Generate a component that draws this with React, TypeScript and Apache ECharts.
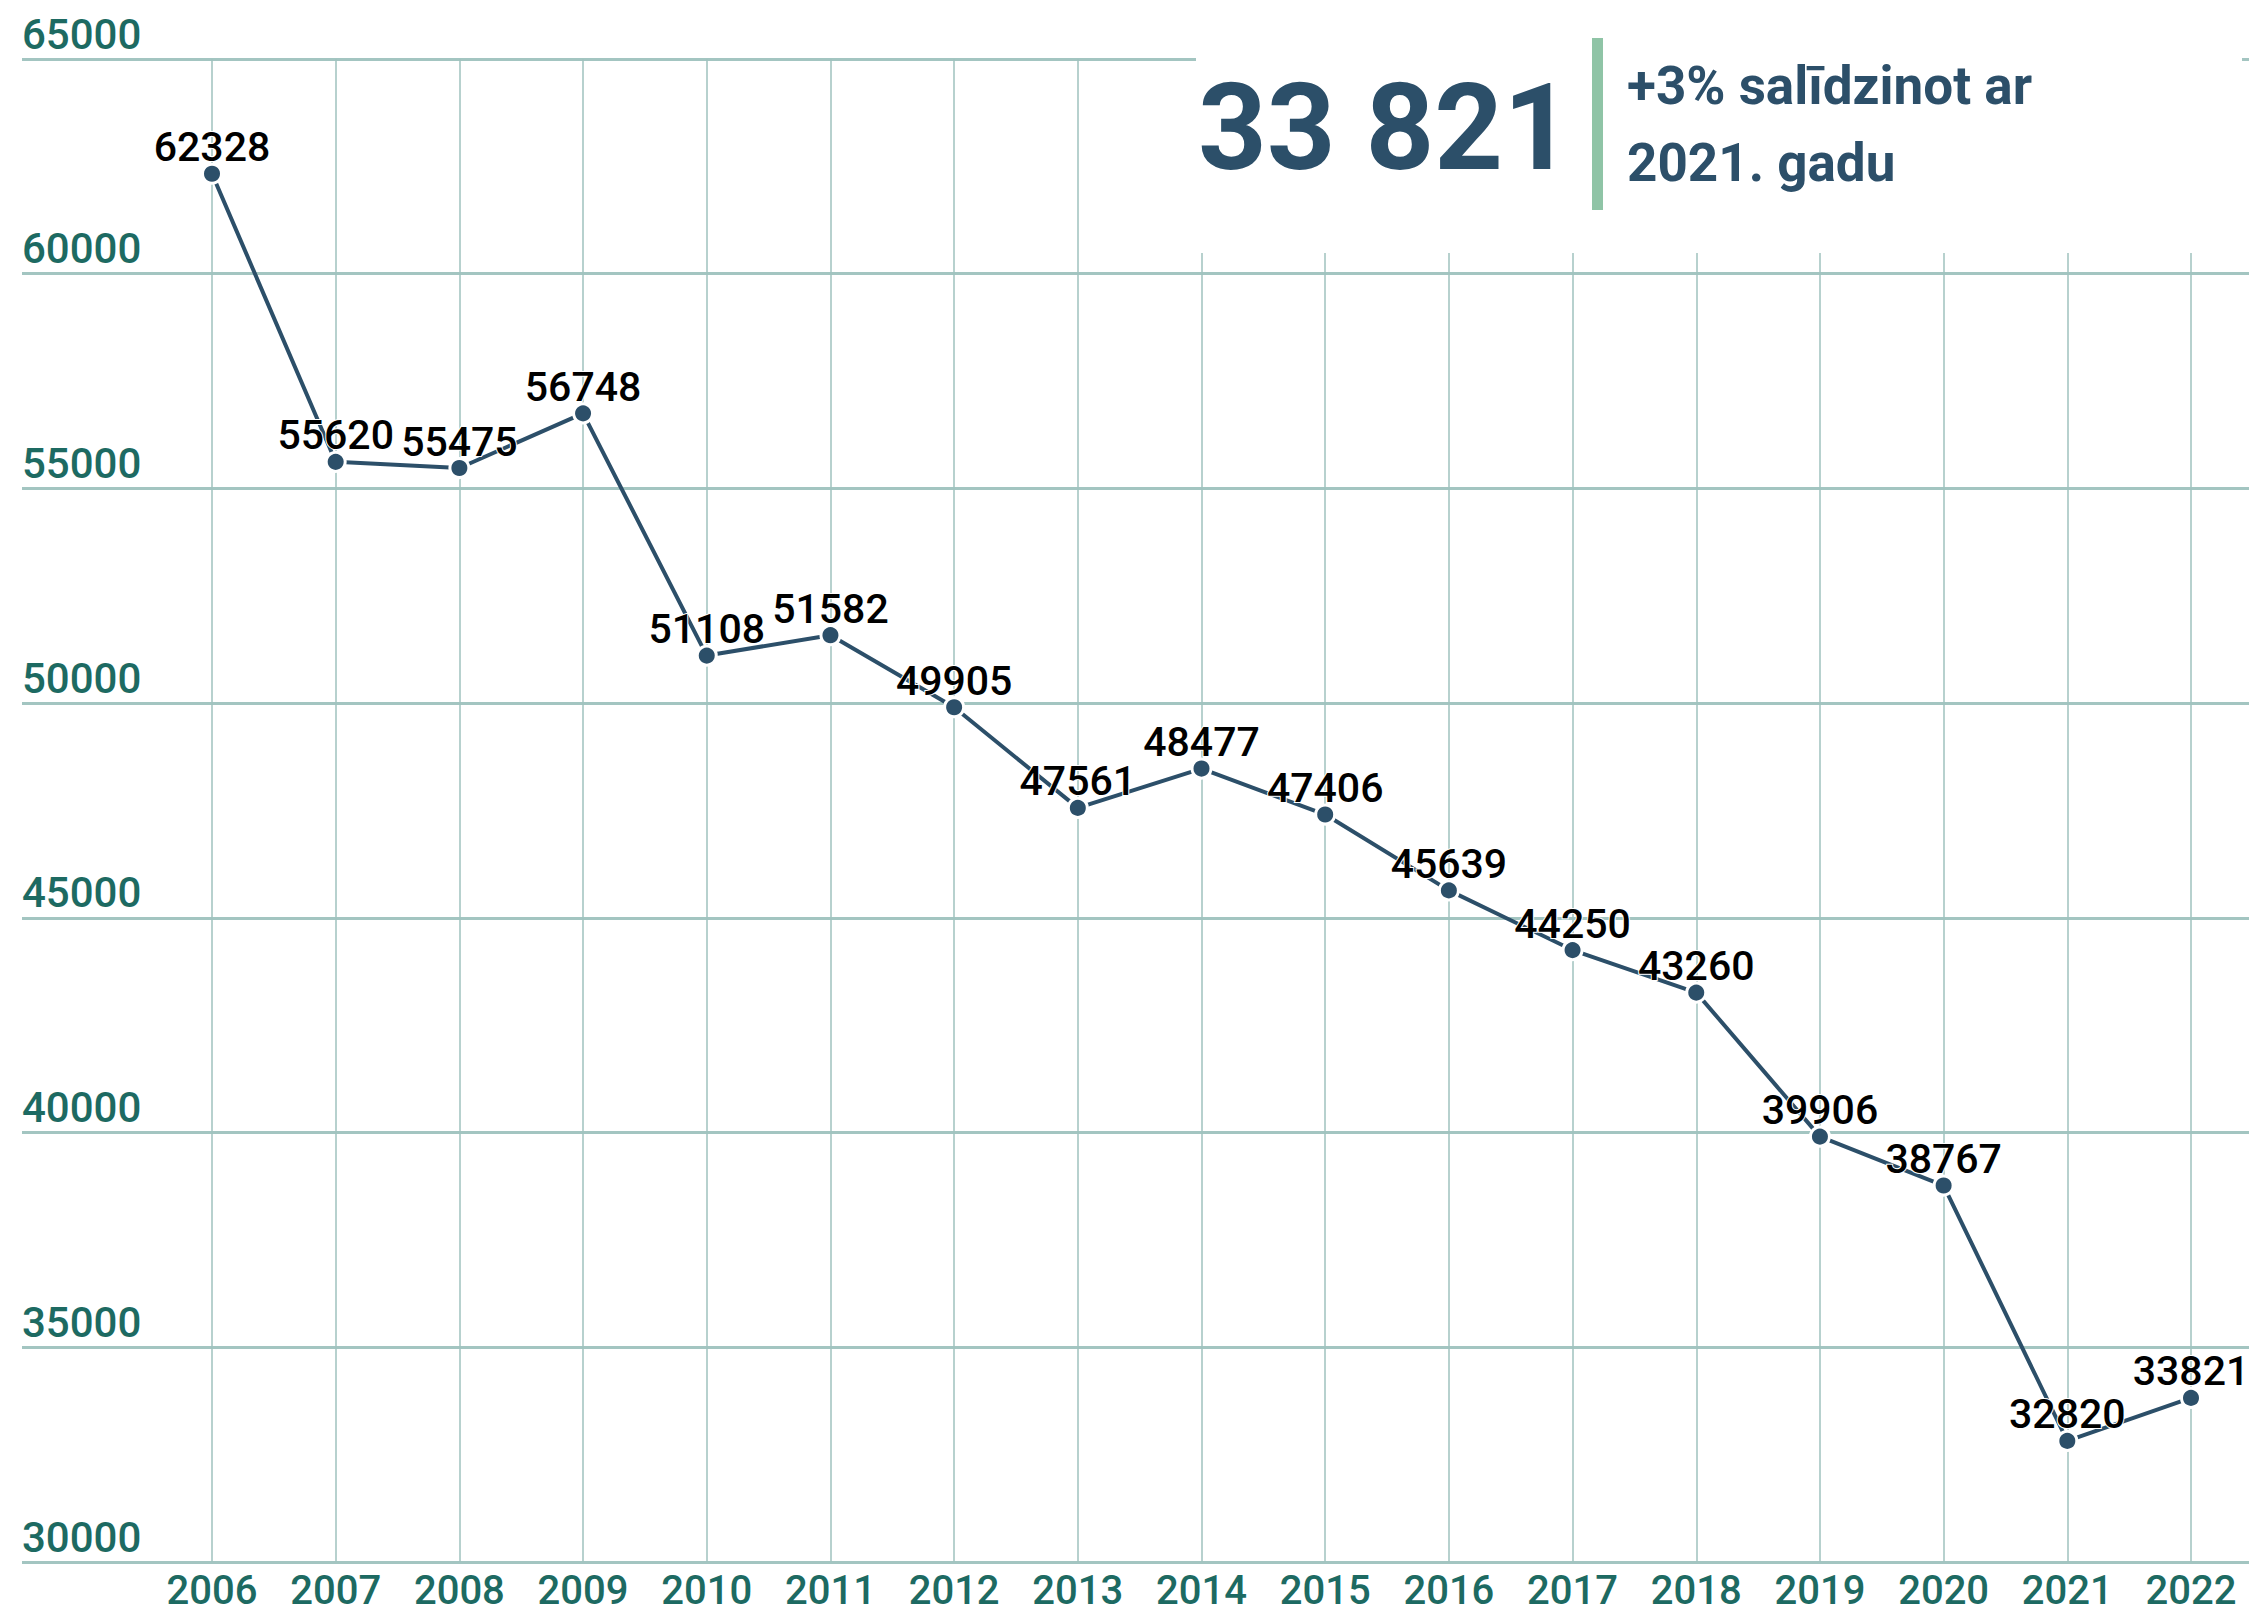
import React, { useEffect, useRef } from "react";
import * as echarts from "echarts";

const years = ["2006", "2007", "2008", "2009", "2010", "2011", "2012", "2013", "2014", "2015", "2016", "2017", "2018", "2019", "2020", "2021", "2022"];
const values = [62328, 55620, 55475, 56748, 51108, 51582, 49905, 47561, 48477, 47406, 45639, 44250, 43260, 39906, 38767, 32820, 33821];
const yMin = 30000;
const yMax = 65000;
const yStep = 5000;
const headline = "33 821";
const subLines = ["+3% salīdzinot ar", "2021. gadu"];

const TEAL = "#1d6a62";
const NAVY = "#2c4f69";
const GRID_H = "#a3c5c1";
const GRID_V = "#9fc2be";

export default function App() {
  const ref = useRef<HTMLDivElement>(null);
  useEffect(() => {
    if (!ref.current) return;
    const chart = echarts.init(ref.current, null, { renderer: "svg" });
    const option: any = {
      animation: false,
      backgroundColor: "#ffffff",
      grid: [
        { left: 212, right: 58, top: 59, bottom: 51 },
        { left: 22, right: 0, top: 59, bottom: 51 },
      ],
      xAxis: [
        {
          type: "category",
          gridIndex: 0,
          data: years,
          boundaryGap: false,
          axisLine: { show: false },
          axisTick: { show: false },
          axisLabel: { interval: 0, margin: 8, color: TEAL, fontFamily: "Roboto", fontSize: 40, fontWeight: 500 },
          splitLine: { show: true, interval: 0, lineStyle: { color: GRID_V, width: 1.5 } },
        },
        { type: "value", gridIndex: 1, min: 0, max: 1, show: false },
      ],
      yAxis: [
        { type: "value", gridIndex: 0, min: yMin, max: yMax, interval: yStep, show: false },
        {
          type: "value",
          gridIndex: 1,
          min: yMin,
          max: yMax,
          interval: yStep,
          axisLine: { show: false },
          axisTick: { show: false },
          axisLabel: {
            inside: true,
            margin: 0,
            align: "left",
            verticalAlign: "bottom",
            lineHeight: 42,
            padding: [0, 0, 4, 0],
            color: TEAL,
            fontFamily: "Roboto",
            fontSize: 42,
            fontWeight: 500,
            formatter: (v: number) => String(v),
          },
          splitLine: { show: true, lineStyle: { color: GRID_H, width: 3 } },
        },
      ],
      series: [
        {
          type: "line",
          xAxisIndex: 0,
          yAxisIndex: 0,
          data: values,
          symbol: "circle",
          symbolSize: 19,
          lineStyle: { color: NAVY, width: 4 },
          itemStyle: { color: NAVY, borderColor: "#ffffff", borderWidth: 3 },
          label: {
            show: true,
            position: "top",
            distance: 0,
            offset: [0, 5],
            color: "#000000",
            fontFamily: "Roboto",
            fontSize: 41,
            fontWeight: 500,
            lineHeight: 41,
            textBorderColor: "#ffffff",
            textBorderWidth: 2,
          },
          z: 3,
        },
      ],
      graphic: [
        { type: "rect", z: 50, shape: { x: 1196, y: 0, width: 1046, height: 253 }, style: { fill: "#ffffff" } },
        { type: "rect", z: 51, shape: { x: 1592, y: 38, width: 11, height: 172 }, style: { fill: "#8fc4a6" } },
        {
          type: "text",
          z: 51,
          x: 1198,
          y: 128,
          style: {
            text: headline,
            fill: NAVY,
            fontFamily: "Roboto",
            fontSize: 120,
            fontWeight: 700,
            align: "left",
            verticalAlign: "middle",
            textAlign: "left",
            textVerticalAlign: "middle",
          },
        },
        ...subLines.map((t, i) => ({
          type: "text",
          z: 51,
          x: 1627,
          y: 86 + i * 77,
          style: {
            text: t,
            fill: NAVY,
            fontFamily: "Roboto",
            fontSize: 53,
            fontWeight: 700,
            align: "left",
            verticalAlign: "middle",
            textAlign: "left",
            textVerticalAlign: "middle",
          },
        })),
      ],
    };
    chart.setOption(option);
    return () => {
      chart.dispose();
    };
  }, []);
  return <div ref={ref} style={{ position: "fixed", left: 0, top: 0, width: 2249, height: 1613 }} />;
}
